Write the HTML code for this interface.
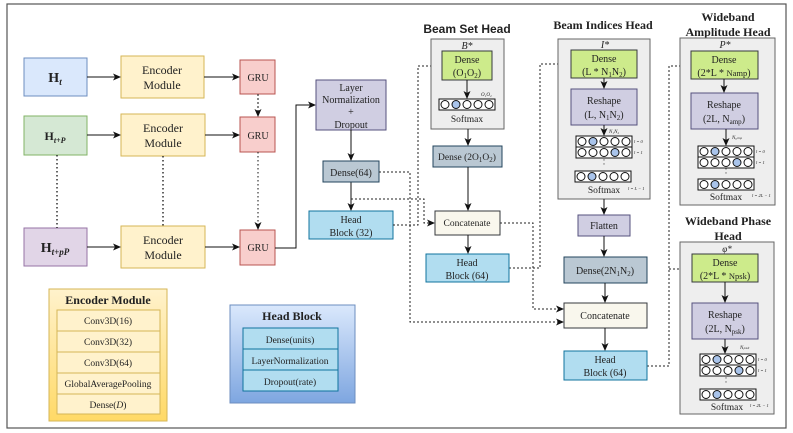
<!DOCTYPE html>
<html><head><meta charset="utf-8"><style>
html,body{margin:0;padding:0;background:#fff;}
svg{display:block;}
text{font-family:"Liberation Serif",serif;fill:#222;}
.s{font-family:"Liberation Sans",sans-serif;}
</style></head><body>
<svg width="793" height="433" viewBox="0 0 793 433" xmlns="http://www.w3.org/2000/svg">
<defs>
<marker id="a" markerWidth="8" markerHeight="8" refX="7" refY="4" orient="auto" markerUnits="userSpaceOnUse"><path d="M0,0.5 L8,4 L0,7.5 L2,4z" fill="#111"/></marker>
<linearGradient id="gy" x1="0" y1="0" x2="0" y2="1"><stop offset="0" stop-color="#fff2cc"/><stop offset="1" stop-color="#ffd966"/></linearGradient>
<linearGradient id="gb" x1="0" y1="0" x2="0" y2="1"><stop offset="0" stop-color="#dae8fc"/><stop offset="1" stop-color="#7ea6e0"/></linearGradient>
<g id="rA"><rect x="0" y="0" width="56" height="11" fill="#fff" stroke="#111"/><circle cx="6" cy="5.5" r="4" fill="#fff" stroke="#111"/><circle cx="17" cy="5.5" r="4" fill="#a9c4eb" stroke="#111"/><circle cx="28" cy="5.5" r="4" fill="#fff" stroke="#111"/><circle cx="39" cy="5.5" r="4" fill="#fff" stroke="#111"/><circle cx="50" cy="5.5" r="4" fill="#fff" stroke="#111"/></g>
<g id="rB"><rect x="0" y="0" width="56" height="11" fill="#fff" stroke="#111"/><circle cx="6" cy="5.5" r="4" fill="#fff" stroke="#111"/><circle cx="17" cy="5.5" r="4" fill="#fff" stroke="#111"/><circle cx="28" cy="5.5" r="4" fill="#fff" stroke="#111"/><circle cx="39" cy="5.5" r="4" fill="#a9c4eb" stroke="#111"/><circle cx="50" cy="5.5" r="4" fill="#fff" stroke="#111"/></g>
</defs>
<rect x="7" y="4" width="779" height="424" fill="#fff" stroke="#555" stroke-width="1.2"/>

<rect x="24" y="58" width="63" height="38" fill="#dae8fc" stroke="#6c8ebf"/>
<text x="55" y="82" text-anchor="middle" font-size="14" font-weight="bold">H<tspan font-size="9" font-style="italic" dy="3">t</tspan></text>
<rect x="24" y="116" width="63" height="39" fill="#d5e8d4" stroke="#82b366"/>
<text x="55" y="140" text-anchor="middle" font-size="12" font-weight="bold">H<tspan font-size="8" font-style="italic" dy="3">t+P</tspan></text>
<rect x="24" y="228" width="63" height="38" fill="#e1d5e7" stroke="#9673a6"/>
<text x="55" y="252" text-anchor="middle" font-size="14" font-weight="bold">H<tspan font-size="9" font-style="italic" dy="3">t+pP</tspan></text>

<g fill="#fff2cc" stroke="#d6b656">
<rect x="121" y="56" width="83" height="42"/><rect x="121" y="114" width="84" height="42"/><rect x="121" y="226" width="84" height="42"/></g>
<g font-size="12" text-anchor="middle">
<text x="162" y="74">Encoder</text><text x="162" y="89">Module</text>
<text x="163" y="132">Encoder</text><text x="163" y="147">Module</text>
<text x="163" y="244">Encoder</text><text x="163" y="259">Module</text></g>
<g fill="#f8cecc" stroke="#b85450">
<rect x="240" y="60" width="35" height="34"/><rect x="240" y="117" width="35" height="35"/><rect x="240" y="230" width="35" height="35"/></g>
<g font-size="10" text-anchor="middle"><text x="258" y="81">GRU</text><text x="258" y="139">GRU</text><text x="258" y="251">GRU</text></g>

<g stroke="#111" fill="none" stroke-width="1">
<path d="M87,77 H120" marker-end="url(#a)"/><path d="M204,77 H239" marker-end="url(#a)"/>
<path d="M87,135 H120" marker-end="url(#a)"/><path d="M205,135 H239" marker-end="url(#a)"/>
<path d="M87,247 H120" marker-end="url(#a)"/><path d="M205,247 H239" marker-end="url(#a)"/>
<path d="M258,94 V116" stroke-dasharray="2,2" marker-end="url(#a)"/>
<path d="M258,152 V229" stroke-dasharray="1.5,2.5" marker-end="url(#a)"/>
<path d="M57,155 V228" stroke-dasharray="1.5,2.5" stroke-width="1.3"/>
<path d="M163,156 V226" stroke-dasharray="1.5,2.5" stroke-width="1.3"/>
<path d="M275,248 H296 V105 H315" marker-end="url(#a)"/>
<path d="M351,130 V160" marker-end="url(#a)"/>
<path d="M351,182 V210" marker-end="url(#a)"/>
</g>

<rect x="316" y="80" width="70" height="50" fill="#d0cee2" stroke="#56517e"/>
<g font-size="10" text-anchor="middle"><text x="351" y="91">Layer</text><text x="351" y="103">Normalization</text><text x="351" y="115">+</text><text x="351" y="128">Dropout</text></g>
<rect x="323" y="161" width="56" height="21" fill="#bac8d3" stroke="#23445d"/>
<text x="351" y="176" font-size="10" text-anchor="middle">Dense(64)</text>
<rect x="309" y="211" width="84" height="28" fill="#b1ddf0" stroke="#10739e"/>
<g font-size="10" text-anchor="middle"><text x="351" y="223">Head</text><text x="351" y="236">Block (32)</text></g>

<g stroke="#222" fill="none" stroke-dasharray="2,2">
<path d="M379,172 H410 V322 H563" marker-end="url(#a)"/>
<path d="M351,199 H424 V223 H434" marker-end="url(#a)"/>
<path d="M393,225 H418 V66 H441" marker-end="url(#a)"/>
<path d="M500,223 H533 V309 H563" marker-end="url(#a)"/>
<path d="M509,268 H540 V64 H570" marker-end="url(#a)"/>
<path d="M647,366 H669 V66 H690" marker-end="url(#a)"/>
<path d="M669,269 H691" marker-end="url(#a)"/>
</g>

<rect x="49" y="289" width="118" height="132" fill="url(#gy)" stroke="#d6b656"/>
<text x="108" y="304" font-size="12" font-weight="bold" text-anchor="middle">Encoder Module</text>
<g fill="#fff2cc" stroke="#d6b656"><rect x="57" y="310" width="103" height="21"/><rect x="57" y="331" width="103" height="21"/><rect x="57" y="352" width="103" height="21"/><rect x="57" y="373" width="103" height="21"/><rect x="57" y="394" width="103" height="20"/></g>
<g font-size="9.5" text-anchor="middle"><text x="108" y="324">Conv3D(16)</text><text x="108" y="345">Conv3D(32)</text><text x="108" y="366">Conv3D(64)</text><text x="108" y="387">GlobalAveragePooling</text><text x="108" y="408">Dense(<tspan font-style="italic">D</tspan>)</text></g>
<rect x="230" y="305" width="125" height="98" fill="url(#gb)" stroke="#6c8ebf"/>
<text x="292" y="320" font-size="12" font-weight="bold" text-anchor="middle">Head Block</text>
<g fill="#b1ddf0" stroke="#10739e"><rect x="243" y="328" width="95" height="21"/><rect x="243" y="349" width="95" height="21"/><rect x="243" y="370" width="95" height="21"/></g>
<g font-size="9.5" text-anchor="middle"><text x="290" y="343">Dense(units)</text><text x="290" y="364">LayerNormalization</text><text x="290" y="385">Dropout(rate)</text></g>

<text class="s" x="467" y="33" font-size="12" font-weight="bold" text-anchor="middle">Beam Set Head</text>
<rect x="431" y="39" width="73" height="90" fill="#eeeeee" stroke="#666"/>
<text x="467" y="49" font-size="10" font-style="italic" text-anchor="middle">B*</text>
<rect x="442" y="51" width="50" height="29" fill="#cdeb8b" stroke="#36393d"/>
<g font-size="10" text-anchor="middle"><text x="467" y="63">Dense</text><text x="467" y="76">(O<tspan font-size="7" dy="2">1</tspan><tspan dy="-2">O</tspan><tspan font-size="7" dy="2">2</tspan><tspan dy="-2">)</tspan></text></g>
<text x="481" y="96" font-size="5" font-style="italic">O₁O₂</text>
<use href="#rA" x="439" y="99"/>
<text x="467" y="122" font-size="9.5" text-anchor="middle">Softmax</text>
<rect x="433" y="146" width="69" height="21" fill="#bac8d3" stroke="#23445d"/>
<text x="467" y="160" font-size="9.5" text-anchor="middle">Dense (2O<tspan font-size="7" dy="2">1</tspan><tspan dy="-2">O</tspan><tspan font-size="7" dy="2">2</tspan><tspan dy="-2">)</tspan></text>
<rect x="435" y="211" width="65" height="24" fill="#f9f7ed" stroke="#36393d"/>
<text x="467" y="226" font-size="9.5" text-anchor="middle">Concatenate</text>
<rect x="426" y="254" width="83" height="28" fill="#b1ddf0" stroke="#10739e"/>
<g font-size="10" text-anchor="middle"><text x="467" y="266">Head</text><text x="467" y="279">Block (64)</text></g>

<text x="603" y="29" font-size="12" font-weight="bold" text-anchor="middle">Beam Indices Head</text>
<rect x="558" y="39" width="92" height="160" fill="#eeeeee" stroke="#666"/>
<text x="605" y="48" font-size="10" font-style="italic" text-anchor="middle">I*</text>
<rect x="571" y="50" width="66" height="28" fill="#cdeb8b" stroke="#36393d"/>
<g font-size="10" text-anchor="middle"><text x="604" y="62">Dense</text><text x="604" y="75">(L * N<tspan font-size="7" dy="2">1</tspan><tspan dy="-2">N</tspan><tspan font-size="7" dy="2">2</tspan><tspan dy="-2">)</tspan></text></g>
<rect x="571" y="89" width="66" height="36" fill="#d0cee2" stroke="#56517e"/>
<g font-size="10" text-anchor="middle"><text x="604" y="104">Reshape</text><text x="604" y="118">(L, N<tspan font-size="7" dy="2">1</tspan><tspan dy="-2">N</tspan><tspan font-size="7" dy="2">2</tspan><tspan dy="-2">)</tspan></text></g>
<text x="609" y="133" font-size="5" font-style="italic">N₁N₂</text>
<use href="#rA" x="576" y="136"/><use href="#rB" x="576" y="147"/>
<text x="604" y="167" font-size="9" text-anchor="middle">·</text><text x="604" y="163" font-size="9" text-anchor="middle">·</text>
<use href="#rA" x="575" y="171"/>
<g font-size="4.5" font-style="italic"><text x="634" y="143">l = 0</text><text x="634" y="154">l = 1</text><text x="628" y="190">l = L − 1</text></g>
<text x="604" y="193" font-size="9.5" text-anchor="middle">Softmax</text>
<rect x="578" y="215" width="52" height="21" fill="#d0cee2" stroke="#56517e"/>
<text x="604" y="229" font-size="10" text-anchor="middle">Flatten</text>
<rect x="564" y="257" width="83" height="26" fill="#bac8d3" stroke="#23445d"/>
<text x="605" y="274" font-size="10" text-anchor="middle">Dense(2N<tspan font-size="7" dy="2">1</tspan><tspan dy="-2">N</tspan><tspan font-size="7" dy="2">2</tspan><tspan dy="-2">)</tspan></text>
<rect x="564" y="303" width="83" height="25" fill="#f9f7ed" stroke="#36393d"/>
<text x="605" y="319" font-size="10" text-anchor="middle">Concatenate</text>
<rect x="564" y="351" width="83" height="29" fill="#b1ddf0" stroke="#10739e"/>
<g font-size="10" text-anchor="middle"><text x="605" y="363">Head</text><text x="605" y="376">Block (64)</text></g>

<g font-size="12" font-weight="bold" text-anchor="middle"><text x="728" y="21">Wideband</text><text x="728" y="36">Amplitude Head</text></g>
<rect x="680" y="38" width="95" height="167" fill="#eeeeee" stroke="#666"/>
<text x="725" y="48" font-size="10" font-style="italic" text-anchor="middle">P*</text>
<rect x="691" y="51" width="67" height="28" fill="#cdeb8b" stroke="#36393d"/>
<g font-size="10" text-anchor="middle"><text x="724" y="63">Dense</text><text x="724" y="76">(2*L * <tspan font-size="8.5">Namp</tspan>)</text></g>
<rect x="691" y="93" width="67" height="36" fill="#d0cee2" stroke="#56517e"/>
<g font-size="10" text-anchor="middle"><text x="724" y="108">Reshape</text><text x="724" y="122">(2L, N<tspan font-size="7" dy="2">amp</tspan><tspan dy="-2">)</tspan></text></g>
<text x="732" y="139" font-size="5" font-style="italic">Nₐₘₚ</text>
<use href="#rA" x="698" y="146"/><use href="#rB" x="698" y="157"/>
<text x="726" y="176" font-size="9" text-anchor="middle">·</text><text x="726" y="172" font-size="9" text-anchor="middle">·</text>
<use href="#rA" x="698" y="179"/>
<g font-size="4.5" font-style="italic"><text x="756" y="153">l = 0</text><text x="756" y="164">l = 1</text><text x="752" y="197">l = 2L − 1</text></g>
<text x="726" y="200" font-size="9.5" text-anchor="middle">Softmax</text>

<g font-size="12" font-weight="bold" text-anchor="middle"><text x="728" y="225">Wideband Phase</text><text x="728" y="240">Head</text></g>
<rect x="680" y="242" width="94" height="172" fill="#eeeeee" stroke="#666"/>
<text x="727" y="252" font-size="9" font-style="italic" text-anchor="middle">φ*</text>
<rect x="692" y="254" width="66" height="28" fill="#cdeb8b" stroke="#36393d"/>
<g font-size="10" text-anchor="middle"><text x="725" y="266">Dense</text><text x="725" y="279">(2*L * <tspan font-size="8.5">Npsk</tspan>)</text></g>
<rect x="692" y="303" width="66" height="36" fill="#d0cee2" stroke="#56517e"/>
<g font-size="10" text-anchor="middle"><text x="725" y="318">Reshape</text><text x="725" y="332">(2L, N<tspan font-size="7" dy="2">psk</tspan><tspan dy="-2">)</tspan></text></g>
<text x="740" y="349" font-size="5" font-style="italic">Nₚₛₖ</text>
<use href="#rA" x="700" y="354"/><use href="#rB" x="700" y="365"/>
<text x="726" y="385" font-size="9" text-anchor="middle">·</text><text x="726" y="381" font-size="9" text-anchor="middle">·</text>
<use href="#rA" x="700" y="389"/>
<g font-size="4.5" font-style="italic"><text x="758" y="361">l = 0</text><text x="758" y="372">l = 1</text><text x="750" y="407">l = 2L − 1</text></g>
<text x="727" y="410" font-size="9.5" text-anchor="middle">Softmax</text>

<g stroke="#111" fill="none">
<path d="M467,80 V98" marker-end="url(#a)"/>
<path d="M468,129 V145" marker-end="url(#a)"/>
<path d="M468,167 V210" marker-end="url(#a)"/>
<path d="M468,235 V253" marker-end="url(#a)"/>
<path d="M604,78 V88" marker-end="url(#a)"/>
<path d="M604,125 V135" marker-end="url(#a)"/>
<path d="M604,199 V214" marker-end="url(#a)"/>
<path d="M604,236 V256" marker-end="url(#a)"/>
<path d="M605,283 V302" marker-end="url(#a)"/>
<path d="M605,328 V350" marker-end="url(#a)"/>
<path d="M724,79 V92" marker-end="url(#a)"/>
<path d="M726,129 V145" marker-end="url(#a)"/>
<path d="M725,282 V302" marker-end="url(#a)"/>
<path d="M725,339 V353" marker-end="url(#a)"/>
</g>
</svg>
</body></html>
